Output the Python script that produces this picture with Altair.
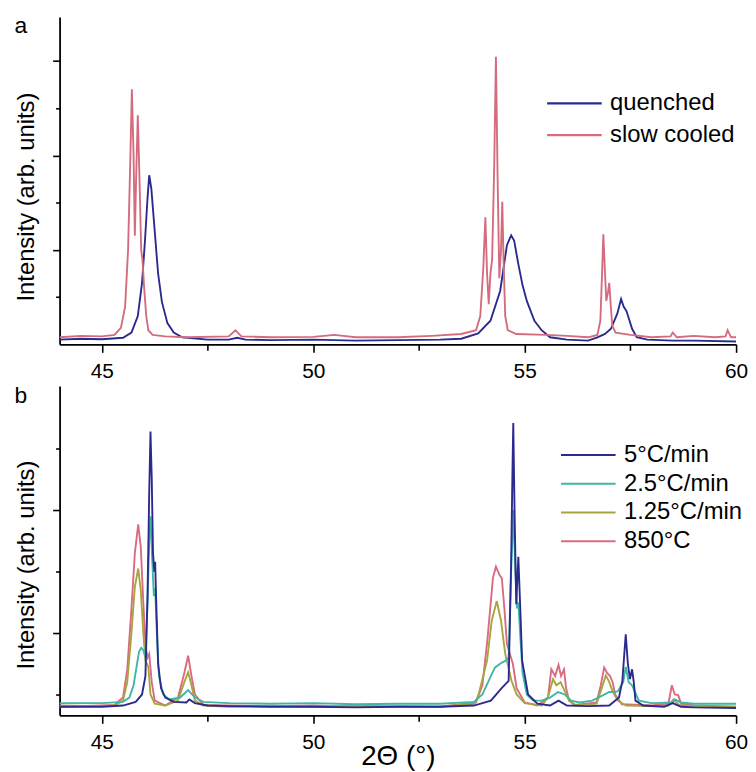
import altair as alt
import pandas as pd

FONT = "Liberation Sans"

# ---------------- panel a ----------------
a_series = ["quenched", "slow cooled"]
a_colors = ["#2b2a8e", "#d46c7e"]

quenched_x = [44.0, 44.5, 45.0, 45.5, 45.7, 45.85, 45.95, 46.02, 46.08, 46.12,
              46.17, 46.25, 46.33, 46.42, 46.55, 46.7, 46.9, 47.5, 48.0, 48.2,
              48.4, 49.0, 50.0, 51.0, 52.0, 53.0, 53.5, 53.9, 54.19, 54.42,
              54.58, 54.68, 54.75, 54.85, 54.95, 55.05, 55.23, 55.4, 55.6, 56.0,
              56.5, 56.72, 56.9, 57.04, 57.19, 57.28, 57.34, 57.41, 57.54, 57.65,
              57.9, 58.5, 59.0, 60.0]
quenched_y = [0.1, 0.12, 0.11, 0.14, 0.25, 0.6, 1.3, 2.2, 3.1, 3.58,
              3.3, 2.4, 1.5, 0.9, 0.45, 0.25, 0.15, 0.1, 0.1, 0.14,
              0.1, 0.09, 0.1, 0.08, 0.09, 0.1, 0.12, 0.23, 0.5, 1.13,
              2.1, 2.31, 2.2, 1.7, 1.25, 0.92, 0.5, 0.3, 0.15, 0.1,
              0.08, 0.15, 0.22, 0.33, 0.65, 0.96, 0.8, 0.7, 0.33, 0.15,
              0.1, 0.08, 0.08, 0.06]

slow_x = [44.0, 44.5, 45.0, 45.3, 45.45, 45.55, 45.62, 45.67, 45.71, 45.75,
          45.78, 45.81, 45.85, 45.89, 45.93, 45.96, 46.0, 46.05, 46.1, 46.2,
          46.5, 47.0, 48.0, 48.16, 48.3, 49.0, 50.0, 50.5, 51.0, 52.0,
          52.8, 53.5, 53.85, 53.95, 54.02, 54.07, 54.11, 54.15, 54.19, 54.23,
          54.28, 54.32, 54.36, 54.4, 54.44, 54.47, 54.5, 54.54, 54.6, 54.8,
          55.5, 56.0, 56.5, 56.72, 56.79, 56.83, 56.86, 56.9, 56.93, 56.97,
          57.0, 57.03, 57.07, 57.15, 57.5, 58.0, 58.45, 58.5, 58.6, 59.0,
          59.5, 59.75, 59.8, 59.88, 60.0]
slow_y = [0.15, 0.18, 0.17, 0.2, 0.35, 0.8, 2.0, 3.8, 5.4, 4.0,
          2.3, 3.5, 4.85, 3.5, 2.0, 1.8, 1.2, 0.6, 0.3, 0.2,
          0.17, 0.15, 0.17, 0.3, 0.17, 0.15, 0.16, 0.2, 0.15, 0.15,
          0.18, 0.22, 0.3, 0.6, 1.6, 2.69, 1.5, 0.85, 1.5, 1.8,
          3.8, 6.09, 3.5, 1.4, 2.0, 3.02, 1.8, 0.6, 0.3, 0.22,
          0.2, 0.18, 0.15, 0.2, 0.5, 1.5, 2.33, 1.5, 0.92, 1.1,
          1.3, 0.9, 0.4, 0.25, 0.2, 0.15, 0.17, 0.25, 0.15, 0.18,
          0.15, 0.17, 0.3, 0.15, 0.15]

# ---------------- panel b ----------------
b_series = ["5°C/min", "2.5°C/min", "1.25°C/min", "850°C"]
b_colors = ["#2b2a8e", "#3fb6a6", "#a9a43c", "#d96a80"]

r5_x = [44.0, 45.0, 45.5, 45.8, 45.95, 46.03, 46.08, 46.12, 46.15, 46.18,
        46.21, 46.24, 46.26, 46.29, 46.33, 46.4, 46.5, 46.7, 47.0, 47.07,
        47.2, 47.5, 48.0, 49.0, 50.0, 51.0, 52.0, 53.0, 53.8, 54.2,
        54.45, 54.62, 54.68, 54.71, 54.73, 54.76, 54.8, 54.85, 54.89, 54.94,
        55.08, 55.3, 55.6, 55.8, 56.0, 56.5, 57.0, 57.23, 57.31, 57.36,
        57.39, 57.44, 57.49, 57.54, 57.58, 57.62, 57.8, 58.3, 58.5, 58.7,
        59.0, 60.0]
r5_y = [0.8, 0.8, 0.82, 0.88, 1.0, 1.3, 2.6, 4.3, 5.28, 4.5,
        3.3, 3.0, 3.16, 2.4, 1.5, 1.1, 0.95, 0.88, 0.87, 0.92,
        0.86, 0.82, 0.81, 0.8, 0.8, 0.79, 0.8, 0.8, 0.82, 0.9,
        1.1, 1.22, 3.16, 4.6, 5.42, 4.0, 2.47, 3.24, 2.5, 1.55,
        1.0, 0.85, 0.82, 0.9, 0.82, 0.81, 0.82, 0.95, 1.22, 1.7,
        1.98, 1.5, 1.25, 1.41, 1.2, 0.9, 0.82, 0.8, 0.86, 0.8,
        0.79, 0.78]

r25_x = [44.0, 45.0, 45.5, 45.65, 45.75, 45.82, 45.88, 45.93, 45.98, 46.03,
         46.08, 46.12, 46.15, 46.19, 46.23, 46.26, 46.3, 46.35, 46.45, 46.6,
         46.85, 47.04, 47.2, 47.4, 48.0, 49.0, 50.0, 51.0, 52.0, 53.0,
         53.8, 54.0, 54.2, 54.3, 54.46, 54.55, 54.62, 54.68, 54.73, 54.78,
         54.82, 54.85, 54.9, 54.95, 55.05, 55.2, 55.4, 55.6, 55.79, 55.95,
         56.1, 56.3, 56.6, 56.8, 57.0, 57.07, 57.2, 57.33, 57.39, 57.46,
         57.54, 57.7, 58.0, 58.5, 58.55, 58.7, 59.0, 60.0]
r25_y = [0.86, 0.86, 0.88, 0.95, 1.15, 1.45, 1.7, 1.76, 1.72, 1.6,
         2.5, 3.5, 3.9, 3.2, 2.6, 2.73, 2.0, 1.3, 1.0, 0.92,
         0.95, 1.07, 0.95, 0.88, 0.86, 0.85, 0.86, 0.84, 0.85, 0.85,
         0.88, 1.0, 1.3, 1.44, 1.52, 1.55, 1.6, 3.0, 4.0, 3.0,
         2.4, 2.5, 1.9, 1.35, 1.0, 0.9, 0.9, 0.95, 1.04, 1.0,
         0.9, 0.87, 0.9, 0.97, 1.04, 1.04, 1.05, 1.2, 1.45, 1.2,
         1.15, 0.9, 0.86, 0.87, 0.92, 0.87, 0.85, 0.85]

r125_x = [44.0, 45.0, 45.3, 45.5, 45.6, 45.7, 45.78, 45.86, 45.92, 45.98,
          46.03, 46.1, 46.15, 46.25, 46.5, 46.8, 46.95, 47.04, 47.12, 47.2,
          47.4, 48.0, 49.0, 50.0, 51.0, 52.0, 53.0, 53.82, 53.91, 54.11,
          54.22, 54.34, 54.44, 54.54, 54.69, 54.81, 55.0, 55.4, 55.55, 55.67,
          55.75, 55.85, 55.95, 56.05, 56.2, 56.7, 56.82, 56.92, 57.0, 57.08,
          57.2, 57.4, 58.0, 58.4, 58.52, 58.65, 59.0, 60.0]
r125_y = [0.82, 0.81, 0.82, 0.9, 1.2, 2.0, 2.75, 3.05, 2.7, 2.0,
          1.55, 1.45, 1.0, 0.85, 0.82, 0.9, 1.2, 1.36, 1.15, 0.9,
          0.82, 0.8, 0.81, 0.8, 0.82, 0.8, 0.8, 0.85, 1.0, 1.55,
          2.2, 2.52, 2.2, 1.66, 1.22, 1.0, 0.86, 0.82, 0.95, 1.25,
          1.15, 1.2, 1.05, 0.9, 0.82, 0.85, 1.1, 1.31, 1.2, 1.05,
          0.9, 0.82, 0.81, 0.82, 0.92, 0.83, 0.81, 0.8]

t850_x = [44.0, 45.0, 45.3, 45.5, 45.6, 45.7, 45.78, 45.86, 45.92, 45.98,
          46.03, 46.08, 46.12, 46.18, 46.25, 46.5, 46.8, 46.95, 47.04, 47.12,
          47.2, 47.4, 48.0, 49.0, 50.0, 51.0, 52.0, 53.0, 53.85, 54.0,
          54.12, 54.25, 54.32, 54.4, 54.46, 54.52, 54.58, 54.72, 54.81, 55.0,
          55.3, 55.55, 55.63, 55.72, 55.8, 55.86, 55.93, 55.98, 56.05, 56.2,
          56.7, 56.8, 56.88, 56.95, 57.02, 57.08, 57.14, 57.3, 58.0, 58.4,
          58.48, 58.55, 58.63, 58.7, 59.0, 60.0]
t850_y = [0.8, 0.82, 0.83, 0.95, 1.4, 2.4, 3.3, 3.77, 3.4, 2.5,
          1.8, 1.6, 1.66, 1.2, 0.9, 0.82, 0.95, 1.35, 1.63, 1.3,
          1.0, 0.83, 0.82, 0.81, 0.82, 0.8, 0.81, 0.8, 0.87, 1.15,
          1.9, 2.9, 3.08, 2.95, 2.89, 2.4, 1.82, 1.5, 1.1, 0.87,
          0.82, 0.95, 1.41, 1.3, 1.48, 1.3, 1.41, 1.1, 0.9, 0.83,
          0.87, 1.15, 1.44, 1.35, 1.3, 1.2, 1.0, 0.84, 0.82, 0.85,
          1.15, 1.0, 0.99, 0.85, 0.82, 0.8]

# axis ticks
x_domain = [44, 60]
x_ticks = [45, 47.5, 50, 52.5, 55, 57.5, 60]
a_y_domain = [0, 6.93]
a_y_ticks = [1, 2, 3, 4, 5, 6]
b_y_domain = [0.66, 6.02]
b_y_ticks = [1, 2, 3, 4, 5]
panel_tags = ["a", "b"]


def make_df(pairs):
    rows = []
    for name, xs, ys in pairs:
        for i, (xv, yv) in enumerate(zip(xs, ys)):
            rows.append({"series": name, "x": xv, "y": yv, "i": i})
    return pd.DataFrame(rows)


df_a = make_df([("quenched", quenched_x, quenched_y),
                ("slow cooled", slow_x, slow_y)])
df_b = make_df([("5°C/min", r5_x, r5_y), ("2.5°C/min", r25_x, r25_y),
                ("1.25°C/min", r125_x, r125_y), ("850°C", t850_x, t850_y)])

W = 682


def panel(df, series, colors, draw_order, ydom, yticks, height, ytitle_y,
          legend_x, legend_y, clip_h, row_pad, tag, tag_y, xtitle):
    x_axis_kw = dict(
        values=x_ticks,
        labelExpr="datum.value % 5 === 0 ? format(datum.value, 'd') : ''",
        tickSize={"condition": {"test": "datum.value % 5 === 0", "value": 8},
                  "value": 6},
        labelFontSize=21, labelFont=FONT, labelColor="black",
        labelFlush=False, labelPadding=8,
        domainColor="black", domainWidth=1.8, tickColor="black",
        tickWidth=1.6, grid=False,
    )
    if xtitle:
        x_axis_kw.update(title="2Θ (°)", titleFont=FONT, titleFontSize=28,
                         titleFontWeight="normal", titleColor="black",
                         titleY=42, titleBaseline="middle")
    else:
        x_axis_kw.update(title=None)
    x_enc = alt.X("x:Q", scale=alt.Scale(domain=x_domain, nice=False, zero=False),
                  axis=alt.Axis(**x_axis_kw))
    y_enc = alt.Y("y:Q", scale=alt.Scale(domain=ydom, nice=False, zero=False),
                  axis=alt.Axis(values=yticks, labels=False,
                                tickSize={"condition": {"test": "datum.value % 2 === 0",
                                                        "value": 7}, "value": 4},
                                tickColor="black", tickWidth=1.6,
                                domainColor="black", domainWidth=1.8,
                                grid=False, title="Intensity (arb. units)",
                                titleFont=FONT, titleFontSize=24,
                                titleFontWeight="normal", titleColor="black",
                                titleX=-33, titleY=ytitle_y, titleAngle=270,
                                titleAlign="center", titleBaseline="middle"))
    color_enc = alt.Color(
        "series:N",
        scale=alt.Scale(domain=series, range=colors),
        legend=alt.Legend(title=None, orient="none", legendX=legend_x,
                          legendY=legend_y, symbolType="stroke",
                          symbolSize=3025, symbolStrokeWidth=2.2,
                          labelFont=FONT, labelFontSize=24, labelColor="black",
                          labelOffset=7, clipHeight=clip_h, rowPadding=row_pad,
                          padding=0),
    )
    layers = []
    for s in draw_order:
        layers.append(
            alt.Chart(df).transform_filter(alt.datum.series == s)
            .mark_line(strokeWidth=1.9, clip=True)
            .encode(x=x_enc, y=y_enc, color=color_enc, order="i:Q")
        )
    tag_df = pd.DataFrame({"t": [tag]})
    layers.append(
        alt.Chart(tag_df).mark_text(font=FONT, fontSize=23, color="black",
                                    align="center", baseline="alphabetic")
        .encode(text="t:N", x=alt.value(-39), y=alt.value(tag_y))
    )
    return alt.layer(*layers).properties(width=W, height=height)


panel_a = panel(df_a, a_series, a_colors, ["quenched", "slow cooled"],
                a_y_domain, a_y_ticks, 330, 181, 490, 73, 28, 4,
                panel_tags[0], 16, False)
panel_b = panel(df_b, b_series, b_colors,
                ["850°C", "1.25°C/min", "2.5°C/min", "5°C/min"],
                b_y_domain, b_y_ticks, 332, 180, 504, 57, 25, 4,
                panel_tags[1], 17, True)

chart = (
    alt.vconcat(panel_a, panel_b, spacing=4)
    .resolve_scale(color="independent")
    .properties(padding={"left": 6, "top": 4, "right": 0, "bottom": 0},
                background="white")
    .configure_view(stroke=None)
)

chart.save("out.html", embed_options={"renderer": "svg", "actions": False})
